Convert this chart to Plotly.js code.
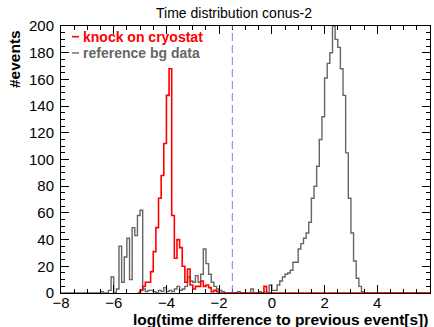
<!DOCTYPE html>
<html>
<head>
<meta charset="utf-8">
<script src="https://cdn.plot.ly/plotly-3.0.1.min.js"></script>
<style>
html,body{margin:0;padding:0;background:#fff;}
#chart{width:434px;height:327px;}
</style>
</head>
<body>
<div id="chart"></div>
<script>
// Histogram binning (log10 of time difference), 140 bins of 0.1 from -8 to 6
const binStart = -8;
const binWidth = 0.1;

// reference bg data counts per bin (bins 0..139)
const refBgCounts = [
  0,0,0,0,0,0,0,0,0,0,            // -8.0 .. -7.1
  0,0,0,0,0,1,0,0,2,12,           // -7.0 .. -6.1
  0,3,35,8,27,41,10,49,43,58,     // -6.0 .. -5.1
  62,3,1,2,2,1,0,2,1,4,           // -5.0 .. -4.1
  1,2,1,3,5,2,3,5,12,9,           // -4.0 .. -3.1
  8,13,8,14,33,22,14,8,5,3,       // -3.0 .. -2.1
  2,1,0,0,0,0,0,1,0,0,            // -2.0 .. -1.1
  0,0,3,0,0,1,0,1,0,6,            // -1.0 .. -0.1
  2,2,6,9,12,14,15,17,23,23,      //  0.0 .. 0.9
  33,37,41,45,53,71,80,95,115,132,//  1.0 .. 1.9
  161,172,180,200,190,184,168,148,105,71, // 2.0 .. 2.9
  45,24,11,5,1,0,0,0,0,0,         //  3.0 .. 3.9
  0,0,0,0,0,0,0,0,0,0,            //  4.0 .. 4.9
  0,0,0,0,0,0,0,0,0,0             //  5.0 .. 5.9
];

// knock on cryostat counts per bin (null = histogram not filled there)
const knockCounts = [
  null,null,null,null,null,null,null,null,null,null,
  null,null,null,null,null,null,null,null,null,null,
  null,null,null,null,null,null,null,null,null,0,
  2,5,8,8,16,31,49,71,88,112,
  148,168,58,26,40,34,20,8,18,6,
  3,5,5,9,5,6,4,1,2,1,
  0,0,0,0,0,0,0,0,0,0,
  0,0,0,0,0,0,0,5,0,0,
  0,0,0,0,0,0,0,0,0,0,
  0,0,0,0,0,0,0,0,0,0,
  0,0,0,0,0,0,0,0,0,0,
  0,0,0,0,0,0,0,0,0,0,
  0,0,0,0,0,0,0,0,0,0,
  0,0,0,0,0,0,0,0,0,0
];

const seriesNames = ["knock on cryostat", "reference bg data"];
const cutValue = -1.5;
const xTickVals = [-8,-6,-4,-2,0,2,4,6];
const yTickVals = [0,20,40,60,80,100,120,140,160,180,200];

function stepTrace(counts, color, width, name) {
  const xs = [], ys = [];
  let first = counts.findIndex(v => v !== null);
  for (let i = first; i < counts.length; i++) {
    xs.push(binStart + i * binWidth);
    ys.push(counts[i]);
  }
  xs.push(binStart + counts.length * binWidth);
  ys.push(counts[counts.length - 1]);
  return {
    type: 'scatter', mode: 'lines', x: xs, y: ys, name: name,
    line: {shape: 'hv', color: color, width: width},
    showlegend: false, hoverinfo: 'skip'
  };
}

const grayColor = '#666666';
const redColor = '#ff0000';

const data = [
  stepTrace(refBgCounts, grayColor, 1.4, seriesNames[1]),
  stepTrace(knockCounts, redColor, 1.6, seriesNames[0])
];

const fontFam = '"Liberation Sans", Arial, Helvetica, sans-serif';

const axisCommon = {
  showgrid: false, zeroline: false, showline: true, linecolor: '#000', linewidth: 1,
  mirror: 'allticks', ticks: 'inside', ticklen: 8, tickcolor: '#000', tickwidth: 1,
  tickfont: {family: fontFam, size: 15, color: '#000'}
};

const layout = {
  width: 434, height: 327,
  margin: {l: 61, r: 4, t: 26, b: 34, pad: 0},
  paper_bgcolor: '#fff', plot_bgcolor: '#fff',
  title: {text: 'Time distribution conus-2', font: {family: fontFam, size: 14, color: '#000'},
          xref: 'container', yref: 'container', x: 234/434, xanchor: 'center', y: 1 - 13/327, yanchor: 'middle'},
  xaxis: Object.assign({}, axisCommon, {
    range: [-8, 6], tickvals: xTickVals, ticklabelstandoff: -4,
    minor: {dtick: 0.5, tick0: 0, ticks: 'inside', ticklen: 4, tickcolor: '#000', tickwidth: 1}
  }),
  yaxis: Object.assign({}, axisCommon, {
    range: [0, 200], tickvals: yTickVals, ticklabelstandoff: 3,
    minor: {dtick: 5, tick0: 0, ticks: 'inside', ticklen: 4, tickcolor: '#000', tickwidth: 1}
  }),
  shapes: [
    {type: 'line', xref: 'x', yref: 'y', x0: cutValue, x1: cutValue, y0: 0, y1: 200,
     line: {color: 'rgba(110,110,235,0.9)', width: 1, dash: '8px,4px'}},
    {type: 'line', xref: 'paper', yref: 'paper', x0: 11/369, x1: 18/369, y0: 0.96, y1: 0.96,
     line: {color: redColor, width: 1.6}},
    {type: 'line', xref: 'paper', yref: 'paper', x0: 11/369, x1: 18/369, y0: 0.899, y1: 0.899,
     line: {color: grayColor, width: 1.4}}
  ],
  annotations: [
    {text: '<b>' + seriesNames[0] + '</b>', xref: 'paper', yref: 'paper', x: 19.5/369, y: 0.96,
     xanchor: 'left', yanchor: 'middle', showarrow: false,
     font: {family: fontFam, size: 14, color: redColor}},
    {text: '<b>' + seriesNames[1] + '</b>', xref: 'paper', yref: 'paper', x: 19.5/369, y: 0.899,
     xanchor: 'left', yanchor: 'middle', showarrow: false,
     font: {family: fontFam, size: 14, color: grayColor}},
    {text: '<b>#events</b>', xref: 'paper', yref: 'paper', x: -47/369, y: 265/267,
     xanchor: 'center', yanchor: 'top', textangle: -90, showarrow: false,
     font: {family: fontFam, size: 15.5, color: '#000'}},
    {text: '<b>log(time difference to previous event[s])</b>', xref: 'paper', yref: 'paper',
     x: 1, y: -26/267, xanchor: 'right', yanchor: 'middle', showarrow: false,
     font: {family: fontFam, size: 15.5, color: '#000'}}
  ]
};

Plotly.newPlot('chart', data, layout, {displayModeBar: false, staticPlot: true});
</script>
</body>
</html>
